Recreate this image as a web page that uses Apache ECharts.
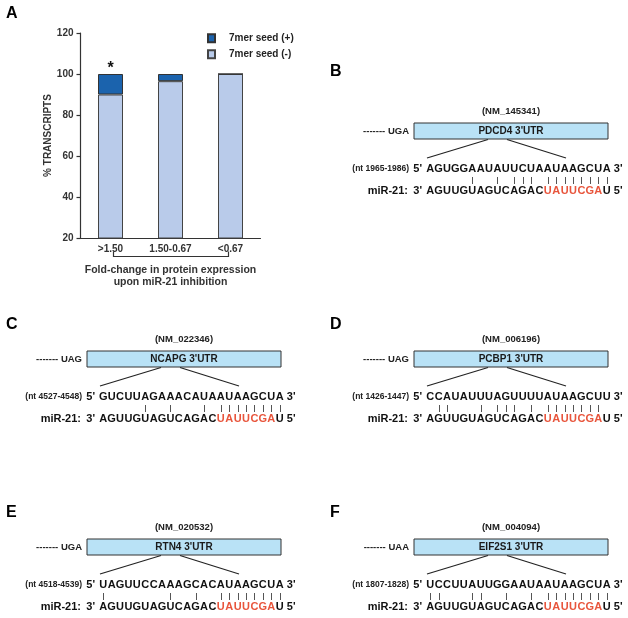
<!DOCTYPE html>
<html>
<head>
<meta charset="utf-8">
<script src="https://cdn.jsdelivr.net/npm/echarts@6/dist/echarts.min.js"></script>
<style>
html,body{margin:0;padding:0;background:#fff;}
#chart{width:628px;height:618px;}
</style>
</head>
<body>
<div id="chart"></div>
<script>
// ---- Panel A data ----
const categories = ['>1.50', '1.50-0.67', '<0.67'];
const seedMinus = [90, 96.5, 100];
const seedPlus = [10, 3.5, 0];
const seriesNames = ['7mer seed (+)', '7mer seed (-)'];

// ---- Panels B-F data ----
const panelLetters = ['B', 'C', 'D', 'E', 'F'];
const genes = ['PDCD4', 'NCAPG', 'PCBP1', 'RTN4', 'EIF2S1'];
const accessions = ['NM_145341', 'NM_022346', 'NM_006196', 'NM_020532', 'NM_004094'];
const stopCodons = ['UGA', 'UAG', 'UAG', 'UGA', 'UAA'];
const ntRanges = ['1965-1986', '4527-4548', '1426-1447', '4518-4539', '1807-1828'];
const targets = [
  'AGUGGAAUAUUCUAAUAAGCUA',
  'GUCUUAGAAACAUAAUAAGCUA',
  'CCAUAUUUAGUUUUAUAAGCUU',
  'UAGUUCCAAAGCACAUAAGCUA',
  'UCCUUAUUGGAAUAAUAAGCUA'
];
const mir21 = 'AGUUGUAGUCAGACUAUUCGAU'; // written 3' -> 5'
const seedStart = 14, seedEnd = 20; // red seed letters (0-based, inclusive)

// ---- layout ----
const panelOrigins = [[414, 123], [87, 351], [414, 351], [87, 539], [414, 539]];
const letterPos = [[330, 72], [6, 325], [330, 325], [6, 513], [330, 513]];

const FONT = '"Liberation Sans", Arial, Helvetica, sans-serif';
const f = (s) => 'bold ' + s + 'px ' + FONT;
const isPair = (a, b) => (a === 'A' && b === 'U') || (a === 'U' && b === 'A') ||
                          (a === 'G' && b === 'C') || (a === 'C' && b === 'G');

const g = [];
function txt(text, x, y, size, align, fill, vAlign) {
  g.push({type: 'text', silent: true, style: {text: text, x: x, y: y, font: f(size),
    fill: fill || '#111', textAlign: align || 'left', textVerticalAlign: vAlign || 'middle'}});
}
function line(x1, y1, x2, y2, color, w) {
  g.push({type: 'line', silent: true, shape: {x1: x1, y1: y1, x2: x2, y2: y2},
    style: {stroke: color || '#222', lineWidth: w || 1}});
}

// panel A letter and bracket
txt('A', 6, 14, 16, 'left', '#000');
line(113.5, 256.5, 228.5, 256.5, '#333', 1.2);
line(113.5, 251.5, 113.5, 257, '#333', 1.2);
line(228.5, 251.5, 228.5, 257, '#333', 1.2);

const CELL = 8.4, BOXW = 194, BOXH = 16;
panelLetters.forEach(function (L, p) {
  const X0 = panelOrigins[p][0], Y0 = panelOrigins[p][1];
  txt(L, letterPos[p][0], letterPos[p][1], 16, 'left', '#000');
  txt('(' + accessions[p] + ')', X0 + BOXW / 2, Y0 - 12, 9.5, 'center', '#222');
  g.push({type: 'rect', silent: true, shape: {x: X0, y: Y0, width: BOXW, height: BOXH},
    style: {fill: '#b9e2f6', stroke: '#333', lineWidth: 1}});
  txt(genes[p] + " 3'UTR", X0 + BOXW / 2, Y0 + BOXH / 2 + 0.5, 10, 'center', '#1a1a1a');
  txt('------- ' + stopCodons[p], X0 - 5, Y0 + BOXH / 2 + 0.5, 9.5, 'right', '#222');
  line(X0 + 74, Y0 + BOXH + 0.5, X0 + 13, Y0 + 35, '#222', 1.2);
  line(X0 + 93, Y0 + BOXH + 0.5, X0 + 152, Y0 + 35, '#222', 1.2);
  const yTop = Y0 + 46, yBot = Y0 + 68;
  const sx = X0 + 12;
  txt('(nt ' + ntRanges[p] + ')', X0 - 5, yTop, 8.5, 'right', '#222');
  txt("5'", X0 + 8, yTop, 11, 'right');
  txt("miR-21:", X0 - 6, yBot, 11, 'right');
  txt("3'", X0 + 8, yBot, 11, 'right');
  const t = targets[p];
  for (let i = 0; i < t.length; i++) {
    const cx = sx + CELL * (i + 0.5);
    txt(t[i], cx, yTop, 11, 'center');
    const red = i >= seedStart && i <= seedEnd;
    txt(mir21[i], cx, yBot, 11, 'center', red ? '#e8553c' : '#111');
    if (isPair(t[i], mir21[i])) line(Math.round(cx) + 0.5, Y0 + 54, Math.round(cx) + 0.5, Y0 + 61, '#555', 1);
  }
  txt("3'", sx + CELL * t.length + 3, yTop, 11, 'left');
  txt("5'", sx + CELL * t.length + 3, yBot, 11, 'left');
});

const chart = echarts.init(document.getElementById('chart'), null, {renderer: 'canvas'});
const axisColor = '#333';
chart.setOption({
  animation: false,
  backgroundColor: '#fff',
  textStyle: {fontFamily: FONT},
  grid: {left: 80.5, top: 33, width: 180, height: 205, containLabel: false},
  legend: {
    orient: 'vertical', left: 207, top: 32.3, padding: 0,
    itemWidth: 7, itemHeight: 8, itemGap: 4, icon: 'rect',
    data: seriesNames,
    textStyle: {fontWeight: 'bold', fontSize: 10, color: '#222', lineHeight: 12, padding: [0, 0, 0, 9]}
  },
  xAxis: {
    type: 'category', data: categories,
    axisLine: {lineStyle: {color: axisColor, width: 1.2}},
    axisTick: {length: 4, lineStyle: {color: axisColor, width: 1.2}},
    axisLabel: {margin: 6, fontWeight: 'bold', fontSize: 10, color: '#333'},
    name: 'Fold-change in protein expression\nupon miR-21 inhibition',
    nameLocation: 'middle', nameGap: 26,
    nameTextStyle: {fontWeight: 'bold', fontSize: 10.5, color: '#333', lineHeight: 12}
  },
  yAxis: {
    type: 'value', min: 20, max: 120, interval: 20,
    splitLine: {show: false},
    axisLine: {show: true, lineStyle: {color: axisColor, width: 1.2}},
    axisTick: {show: true, length: 4, lineStyle: {color: axisColor, width: 1.2}},
    axisLabel: {margin: 7, fontWeight: 'bold', fontSize: 10, color: '#333'},
    name: '% TRANSCRIPTS', nameLocation: 'middle', nameGap: 19,
    nameTextStyle: {fontWeight: 'bold', fontSize: 10, color: '#333'}
  },
  series: [
    {
      name: seriesNames[1], type: 'bar', stack: 'total', barWidth: 25,
      data: seedMinus,
      itemStyle: {color: '#b9cbea', borderColor: '#444', borderWidth: 1}
    },
    {
      name: seriesNames[0], type: 'bar', stack: 'total', barWidth: 25,
      data: seedPlus.map(function (v, i) {
        return i === 0 ? {value: v, label: {show: true, formatter: '*', position: 'top', distance: -3,
          fontSize: 16, fontWeight: 'bold', color: '#111'}} : v;
      }),
      itemStyle: {color: '#1b63ad', borderColor: '#333', borderWidth: 1}
    }
  ],
  graphic: {elements: g}
});
</script>
</body>
</html>
